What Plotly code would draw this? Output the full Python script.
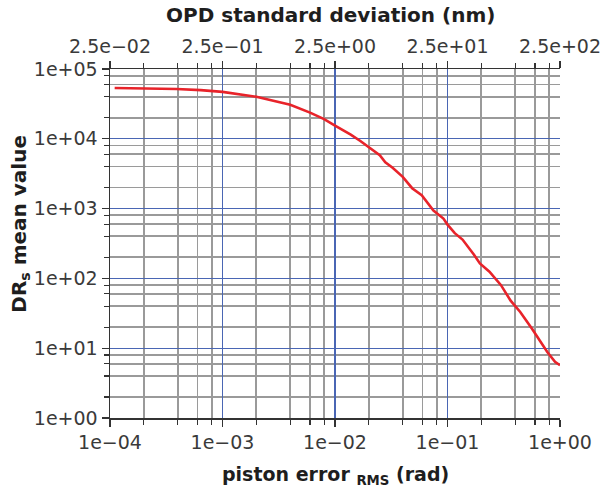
import plotly.graph_objects as go

# ---- data ----
piston_rms_rad = [1.1e-4, 2e-4, 3.9e-4, 6.4e-4, 1e-3, 2e-3, 4e-3, 6e-3, 8e-3, 1e-2,
                  1.38e-2, 1.68e-2, 2.05e-2, 2.5e-2, 2.8e-2, 3.25e-2, 4e-2, 4.85e-2,
                  5.9e-2, 7.5e-2, 9.2e-2, 0.1, 0.116, 0.136, 0.172, 0.194, 0.236,
                  0.299, 0.364, 0.443, 0.562, 0.659, 0.771, 0.903, 1.0]
drs_mean = [5.35e4, 5.32e4, 5.16e4, 4.98e4, 4.7e4, 4.0e4, 3.08e4, 2.37e4, 1.92e4, 1.55e4,
            1.15e4, 9.3e3, 7.4e3, 5.8e3, 4.6e3, 3.85e3, 2.85e3, 1.96e3,
            1.55e3, 940, 720, 590, 445, 360, 218, 164, 125,
            80, 48, 33, 19.1, 13, 8.8, 6.4, 5.7]

opd_nm_per_rad = 250.0

x_major = [1e-4, 1e-3, 1e-2, 1e-1, 1e0]
x_major_text = ["1e\u221204", "1e\u221203", "1e\u221202", "1e\u221201", "1e+00"]
x_grid = [1e-3, 1e-2, 1e-1]
top_major = [0.025, 0.25, 2.5, 25, 250]
top_major_text = ["2.5e\u221202", "2.5e\u221201", "2.5e+00", "2.5e+01", "2.5e+02"]
y_major = [1e0, 1e1, 1e2, 1e3, 1e4, 1e5]
y_major_text = ["1e+00", "1e+01", "1e+02", "1e+03", "1e+04", "1e+05"]
minor_mult = [2, 4, 6, 8]

x_minor = [m * d for d in x_major[:-1] for m in minor_mult]
top_minor = [v * opd_nm_per_rad for v in x_minor]
y_minor = [m * d for d in y_major[:-1] for m in minor_mult]

FONT = "DejaVu Sans"
TICKC = "#3a3a3a"
AXC = "#333333"
BLUE = "#4a66b4"
GRAY = "#9a9a9a"

fig = go.Figure()
fig.add_trace(go.Scatter(x=piston_rms_rad, y=drs_mean, mode="lines",
                         line=dict(color="#e8232a", width=2.6), showlegend=False,
                         hoverinfo="skip"))
fig.add_trace(go.Scatter(x=[v * opd_nm_per_rad for v in piston_rms_rad], y=drs_mean,
                         xaxis="x2", mode="lines", line=dict(color="rgba(0,0,0,0)", width=0),
                         showlegend=False, hoverinfo="skip"))
fig.add_trace(go.Scatter(x=piston_rms_rad, y=drs_mean,
                         xaxis="x3", mode="lines", line=dict(color="rgba(0,0,0,0)", width=0),
                         showlegend=False, hoverinfo="skip"))

tickfont = dict(family=FONT, size=19, color=TICKC)

fig.update_layout(
    width=604, height=488,
    margin=dict(l=110, r=44, t=69, b=70),
    paper_bgcolor="white", plot_bgcolor="white",
    xaxis=dict(type="log", range=[-4, 0], tickmode="array", tickvals=x_major,
               ticktext=x_major_text, ticks="outside", ticklen=7, tickwidth=1.2,
               tickcolor=AXC, showline=True, linecolor=AXC, linewidth=1.5,
               showgrid=False, zeroline=False, automargin=False,
               tickfont=tickfont,
               minor=dict(tickmode="array", tickvals=x_minor, ticks="outside",
                          ticklen=5, tickwidth=1.1, tickcolor=AXC, showgrid=True,
                          gridcolor=GRAY, gridwidth=1.8)),
    xaxis3=dict(type="log", range=[-4, 0], overlaying="x", anchor="y",
                tickmode="array", tickvals=x_grid, showticklabels=False, ticks="",
                showline=False, showgrid=True, gridcolor=BLUE, gridwidth=1.1,
                zeroline=False, automargin=False),
    xaxis2=dict(type="log", range=[-1.60206, 2.39794], overlaying="x", side="top",
                anchor="y", tickmode="array", tickvals=top_major,
                ticktext=top_major_text, ticks="outside", ticklen=7, tickwidth=1.2,
                tickcolor=AXC, showline=True, linecolor=AXC, linewidth=1.5,
                showgrid=False, zeroline=False, tickfont=tickfont, automargin=False,
                minor=dict(tickmode="array", tickvals=top_minor, ticks="outside",
                           ticklen=5, tickwidth=1.1, tickcolor=AXC, showgrid=False)),
    yaxis=dict(type="log", range=[0, 5], tickmode="array", tickvals=y_major,
               ticktext=y_major_text, ticks="outside", ticklen=7, tickwidth=1.2,
               tickcolor=AXC, showline=True, linecolor=AXC, linewidth=1.5,
               showgrid=True, gridcolor=BLUE, gridwidth=1.1, zeroline=False,
               tickfont=tickfont, automargin=False,
               minor=dict(tickmode="array", tickvals=y_minor, ticks="outside",
                          ticklen=5, tickwidth=1.1, tickcolor=AXC, showgrid=True,
                          gridcolor=GRAY, gridwidth=1.8)),
    annotations=[
        dict(text="<b>OPD standard deviation (nm)</b>", xref="paper", yref="paper",
             x=0.491, y=1.155, xanchor="center", yanchor="middle", showarrow=False,
             font=dict(family=FONT, size=20, color="#1e1e1e")),
        dict(text="<b>piston error <sub>RMS</sub> (rad)</b>", xref="paper", yref="paper",
             x=0.5, y=-0.164, xanchor="center", yanchor="middle", showarrow=False,
             font=dict(family=FONT, size=19, color="#1e1e1e")),
        dict(text="<b>DR<sub>s</sub> mean value</b>", xref="paper", yref="paper",
             x=-0.2007, y=0.556, xanchor="center", yanchor="middle", showarrow=False,
             textangle=-90, font=dict(family=FONT, size=20, color="#1e1e1e")),
    ],
)

fig.write_html("out.html",
               config={"displayModeBar": False, "staticPlot": True},
               post_script="document.body.style.margin='0';document.body.style.overflow='hidden';")
